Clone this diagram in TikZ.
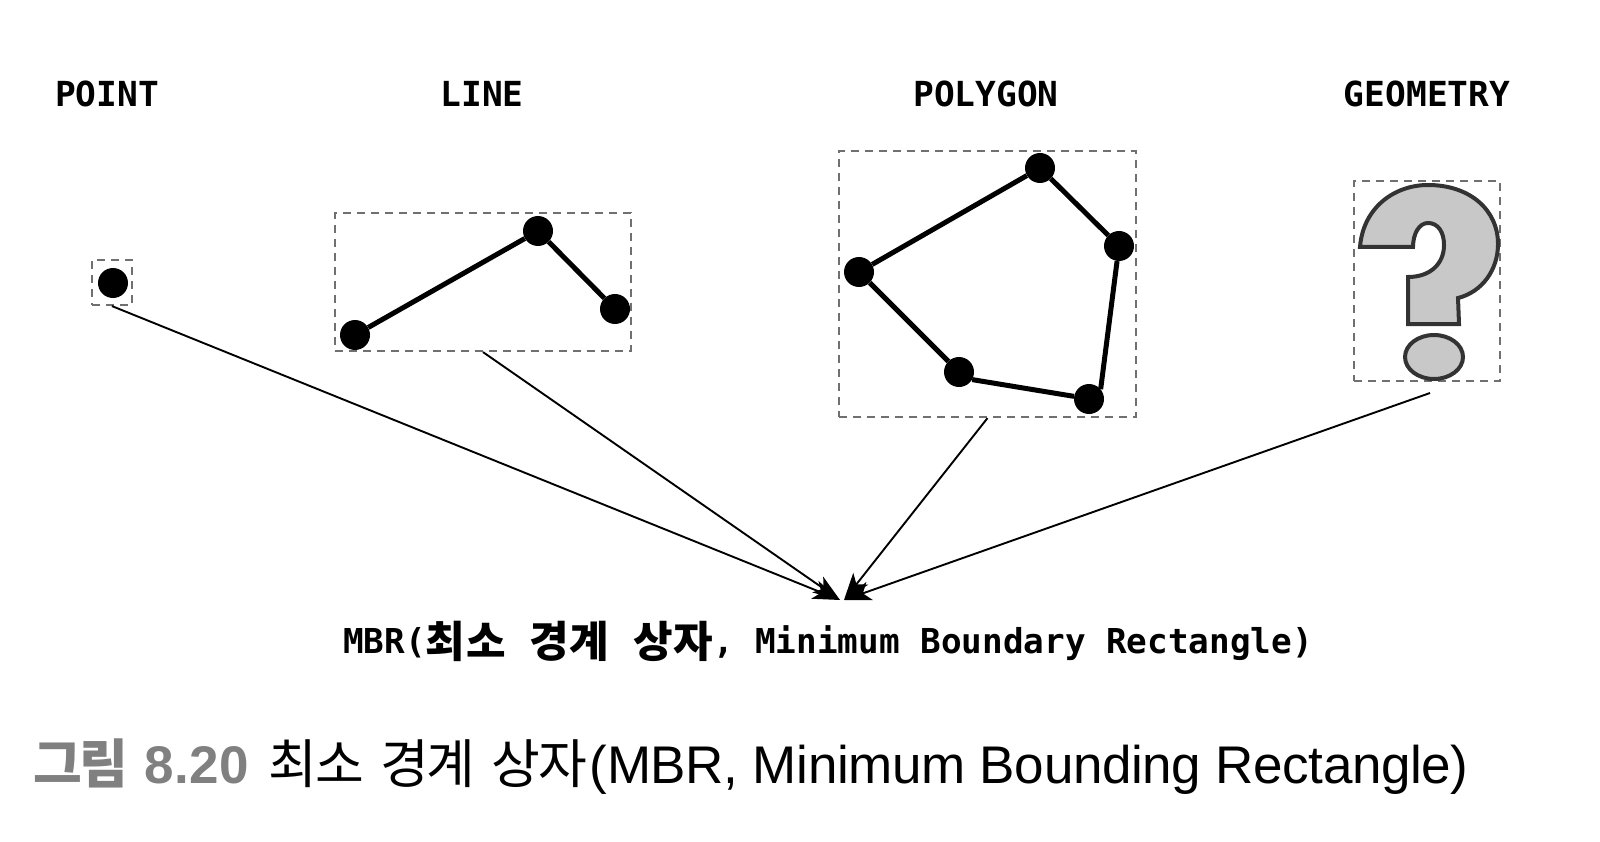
\documentclass[tikz,border=0pt]{standalone}
\usepackage{fontspec}
\usetikzlibrary{arrows.meta}
\setmainfont{Liberation Sans}
\setmonofont{DejaVu Sans Mono}
\newfontfamily\krmono[LetterSpace=2]{Noto Sans CJK KR}
\newfontfamily\krcap[LetterSpace=-4,WordSpace=1.65]{Noto Sans CJK KR}
\newfontfamily\latcap[LetterSpace=-0.7]{Liberation Sans}
\newfontfamily\latnum[LetterSpace=0.5]{Liberation Sans}
\newcommand{\krword}[1]{\raisebox{-4pt}{\fontsize{43}{48}\selectfont\krmono\bfseries #1}}
\definecolor{mbrgray}{HTML}{707070}
\definecolor{shapegray}{HTML}{C8C8C8}
\definecolor{shapeline}{HTML}{333333}
\definecolor{capgray}{HTML}{808080}
\tikzset{
  typelabel/.style={font=\ttfamily\bfseries\fontsize{34.5}{38}\selectfont, inner sep=0pt},
  mbrbox/.style={draw=mbrgray, line width=2.2pt, dash pattern=on 8pt off 6pt, inner sep=0pt},
  vertex/.style={circle, fill=black, inner sep=0pt, minimum size=30pt},
  edge/.style={line width=5pt},
  conn/.style={line width=1.9pt, -{Stealth[length=27pt,width=19pt,inset=7pt]}}
}
\begin{document}
\begin{tikzpicture}[x=1pt,y=-1pt]
    \useasboundingbox (0,0) rectangle (1600,842);
    \node [typelabel] (pointlabel) at (107,94) {POINT};
    \node [typelabel] (linelabel) at (482,94) {LINE};
    \node [typelabel] (polylabel) at (986,94) {POLYGON};
    \node [typelabel] (geomlabel) at (1427,94) {GEOMETRY};

    \node [mbrbox, minimum width=40pt, minimum height=45pt] (pointbox) at (112,282.5) {};
    \node [vertex] (p) at (113,283) {};

    \node [mbrbox, minimum width=296pt, minimum height=138pt] (linebox) at (483,282) {};
    \node [vertex] (l1) at (355,335) {};
    \node [vertex] (l2) at (538,231) {};
    \node [vertex] (l3) at (615,309) {};
    \draw [edge] (l1) -- (l2) -- (l3);

    \node [mbrbox, minimum width=297pt, minimum height=266pt] (polybox) at (987.5,284) {};
    \node [vertex] (g1) at (859,272) {};
    \node [vertex] (g2) at (1040,168) {};
    \node [vertex] (g3) at (1119,246) {};
    \node [vertex] (g4) at (1089,399) {};
    \node [vertex] (g5) at (959,372) {};
    \draw [edge] (g5) -- (g1) -- (g2) -- (g3) -- (g4.40);
    \draw [edge] (g5.-30) -- (g4.170);

    \node [mbrbox, minimum width=146pt, minimum height=200pt] (geombox) at (1427,281) {};
    \draw [shapeline, fill=shapegray, line width=4pt, line join=miter]
      (1360,247) .. controls (1363,208) and (1394,185) .. (1428,185)
      .. controls (1470,185) and (1498,210) .. (1498,244)
      .. controls (1498,270) and (1482,292) .. (1458,298)
      -- (1459,324) -- (1408,324) -- (1408,277)
      .. controls (1430,277) and (1444,264) .. (1444,245)
      .. controls (1444,232) and (1438,223) .. (1428,223)
      .. controls (1419,223) and (1413,234) .. (1413,247)
      -- cycle;
    \draw [shapeline, fill=shapegray, line width=4pt] (1434,357) ellipse [x radius=29pt, y radius=22pt];

    \node [anchor=base, inner sep=0pt, font=\ttfamily\bfseries\fontsize{34.3}{38}\selectfont] (mbr) at (828,653)
      {MBR(\krword{최소}\hspace{3pt} \krword{경계}\hspace{3pt} \krword{상자}\hspace{1pt}, Minimum Boundary Rectangle)};
    \coordinate (tipl) at (840,600);
    \coordinate (tipr) at (844,600);
    \coordinate (geomfoot) at (1430,393);
    \draw [conn] (pointbox.south) -- (tipl);
    \draw [conn] (linebox.south) -- (tipl);
    \draw [conn] (polybox.south) -- (tipr);
    \draw [conn] (geomfoot) -- (tipr);

    \node [anchor=base west, inner sep=0pt, font=\fontsize{53}{60}\selectfont] (caption) at (33,783)
      {\textcolor{capgray}{\krcap\bfseries 그림}\hspace{16pt}\textcolor{capgray}{\latnum\bfseries 8.20}\hspace{20pt}{\krcap 최소 경계 상자}\hspace{3pt}{\latcap (MBR, Minimum Bounding Rectangle)}};
  \end{tikzpicture}
\end{document}
